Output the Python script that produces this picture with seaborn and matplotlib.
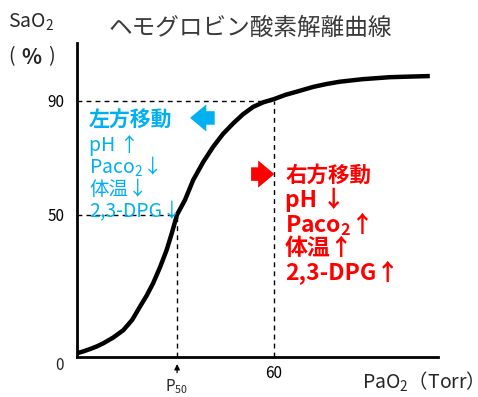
import matplotlib
matplotlib.use("Agg")
import matplotlib.pyplot as plt
import seaborn as sns
import pandas as pd

# ---- data (schematic curve) ----
pao2 = [0.0, 2.0, 4.0, 6.0, 8.0, 11.0, 14.1, 16.8, 19.2, 21.2, 23.2, 25.3,
        27.3, 28.9, 30.5, 32.9, 35.4, 38.5, 41.5, 44.5, 47.6, 50.6, 53.7,
        56.8, 60.0, 63.5, 66.9, 72.0, 76.0, 80.0, 87.0, 95.3, 101.0, 107.5]
sao2 = [1.3, 2.0, 2.8, 3.7, 4.8, 6.8, 9.4, 13.0, 17.7, 21.5, 25.9, 31.5,
        37.5, 43.5, 50.0, 55.1, 62.1, 68.5, 73.8, 78.3, 82.0, 85.2, 87.8,
        89.4, 90.5, 92.0, 93.1, 94.8, 95.8, 96.6, 97.5, 98.2, 98.4, 98.6]
p50 = 30.5
y_ticks = [50, 90]
x_ticks = [60]
title = "ヘモグロビン酸素解離曲線"
left_lines = ["pH ↑", "Paco$_2$↓", "体温↓", "2,3-DPG↓"]
right_lines = ["pH ↓", "Paco$_2$↑", "体温↑", "2,3-DPG↑"]

sns.set_theme(style="white")
plt.rcParams["font.family"] = ["Noto Sans CJK JP", "DejaVu Sans"]
plt.rcParams["mathtext.default"] = "regular"

W, H = 478, 397
fig = plt.figure(figsize=(W / 100, H / 100), dpi=100)
ax = fig.add_axes([77 / W, 1 - 357 / H, (438 - 77) / W, (357 - 43) / H])


def fp(x, y):
    return x / W, 1 - y / H


df = pd.DataFrame({"PaO2": pao2, "SaO2": sao2})
sns.lineplot(data=df, x="PaO2", y="SaO2", ax=ax, color="black", lw=3.2,
             sort=False, estimator=None, solid_capstyle="butt",
             solid_joinstyle="round")

ax.set_xlim(0, 110)
ax.set_ylim(0, 110.2)

# dashed guides
dash = dict(color="black", lw=1.0, ls=(0, (3.5, 3)))
ax.plot([0, 60], [90, 90], **dash)
ax.plot([60, 60], [0, 90], **dash)
ax.plot([0, p50], [50, 50], **dash)
ax.plot([p50, p50], [0, 50], **dash)

for s in ["top", "right"]:
    ax.spines[s].set_visible(False)
for s in ["left", "bottom"]:
    ax.spines[s].set_linewidth(2.0)
    ax.spines[s].set_color("black")

ax.set_yticks(y_ticks)
ax.set_yticklabels([str(v) for v in y_ticks])
ax.set_xticks(x_ticks)
ax.set_xticklabels([str(v) for v in x_ticks])
ax.tick_params(axis="y", length=0, pad=9, labelsize=11, colors="black")
ax.tick_params(axis="x", length=0, pad=6, labelsize=11, colors="black")
ax.set_xlabel("")
ax.set_ylabel("")

# origin label
fig.text(*fp(60, 366), "0", fontsize=11, ha="center", va="center")

# P50 marker
ax.annotate("", xy=(p50, -1.5), xytext=(p50, -6.5), xycoords="data",
            annotation_clip=False,
            arrowprops=dict(arrowstyle="-|>", color="black", lw=0.9,
                            mutation_scale=8))
fig.text(*fp(177, 387), "P$_{50}$", fontsize=11, ha="center", va="center")

# titles / axis labels
fig.text(*fp(250, 28), title, fontsize=17, color="#3a3a3a",
         ha="center", va="center")
fig.text(*fp(31, 22), "SaO$_2$", fontsize=14, ha="center", va="center")
fig.text(*fp(12, 57), "(", fontsize=14, ha="center", va="center")
fig.text(*fp(31, 57), "%", fontsize=15, ha="center", va="center",
         fontweight="bold")
fig.text(*fp(51, 57), ")", fontsize=14, ha="center", va="center")
fig.text(*fp(418, 382), "PaO$_2$（Torr）", fontsize=14, ha="center",
         va="center")

# left-shift block
blue = "#00b0f0"
fig.text(*fp(89, 120), "左方移動", fontsize=15, color=blue,
         fontweight="bold", ha="left", va="center")
for i, t in enumerate(left_lines):
    fig.text(*fp(89, 145 + i * 22.3), t, fontsize=14, color=blue,
             ha="left", va="center")

# right-shift block
red = "#ff0000"
fig.text(*fp(285, 175), "右方移動", fontsize=15.5, color=red,
         fontweight="bold", ha="left", va="center")
for i, t in enumerate(right_lines):
    fig.text(*fp(285, 200 + i * 24.3), t, fontsize=16.5, color=red,
             fontweight="bold", ha="left", va="center")

# arrows
ax.annotate("", xy=(33.6, 83.9), xytext=(42.8, 83.9),
            arrowprops=dict(arrowstyle="simple,head_length=0.9,head_width=1.5,tail_width=0.75",
                            color=blue, lw=0, mutation_scale=13))
ax.annotate("", xy=(61.0, 64.2), xytext=(52.2, 64.2),
            arrowprops=dict(arrowstyle="simple,head_length=0.9,head_width=1.5,tail_width=0.75",
                            color=red, lw=0, mutation_scale=13))

fig.savefig("out.png", dpi=100)
